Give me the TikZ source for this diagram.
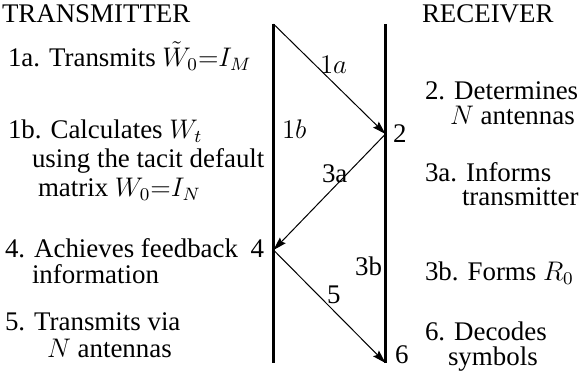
\documentclass[tikz,border=0pt,12pt]{standalone}
\usepackage{fontspec}
\setmainfont{Liberation Serif}
\usetikzlibrary{arrows.meta}
\tikzset{
	txt/.style ={anchor=base west, inner sep=0pt, outer sep=0pt},
	txtr/.style={anchor=base east, inner sep=0pt, outer sep=0pt},
	lane/.style={line width=1.4pt},
	msg/.style ={-{Stealth[length=6pt,width=3.6pt,inset=0.9pt]}, line width=0.45pt},
}
\begin{document}
\begin{tikzpicture}[x=0.446pt, y=-0.446pt]
	\useasboundingbox (0,0) rectangle (587,371);
	% the two time lines
	\coordinate (ltop) at (273.5,24); \coordinate (lbot) at (273.5,363);
	\coordinate (rtop) at (385.5,24); \coordinate (rbot) at (385.5,363);
	\coordinate (p2) at (385.5,134); \coordinate (p4) at (273.5,250); \coordinate (p6) at (385.5,363);
	\draw[lane] (ltop) -- (lbot);
	\draw[lane] (rtop) -- (rbot);
	\draw[msg] (ltop) -- (p2); \draw[msg] (p2) -- (p4); \draw[msg] (p4) -- (p6);
	% labels at the lines
	\node[txt] (l1a) at (320,73) {$1a$};
	\node[txt] (l1b) at (282,138) {$1b$};
	\node[txt] (l2) at (393,142) {2};
	\node[txt] (l3a) at (322,182) {3a};
	\node[txtr] (l4) at (264,257) {4};
	\node[txtr] (l3b) at (382,275) {3b};
	\node[txt] (l5) at (327,303) {5};
	\node[txt] (l6) at (395,363) {6};
	% transmitter side
	\node[txt] (tx) at (2,22) {TRANSMITTER};
	\node[txt] (s1a) at (8,66) {1a. Transmits $\tilde{W}_0{=}I_M$};
	\node[txt] (s1b) at (8,138) {1b. Calculates $W_t$};
	\node[txt] (s1b2) at (32,167) {using the tacit default};
	\node[txt] (s1b3) at (38,196) {matrix $W_0{=}I_N$};
	\node[txt] (s4) at (5,257) {4. Achieves feedback};
	\node[txt] (s42) at (32,283) {information};
	\node[txt] (s5) at (5,330) {5. Transmits via};
	\node[txt] (s52) at (47,357) {$N$ antennas};
	% receiver side
	\node[txt] (rx) at (422,22) {RECEIVER};
	\node[txt] (s2) at (425,99) {2. Determines};
	\node[txt] (s22) at (450,124) {$N$ antennas};
	\node[txt] (s3a) at (425,181) {3a. Informs};
	\node[txt] (s3a2) at (462,205) {transmitter};
	\node[txt] (s3b) at (425,280) {3b. Forms $R_0$};
	\node[txt] (s6) at (425,340) {6. Decodes};
	\node[txt] (s62) at (448,365) {symbols};
\end{tikzpicture}
\end{document}
